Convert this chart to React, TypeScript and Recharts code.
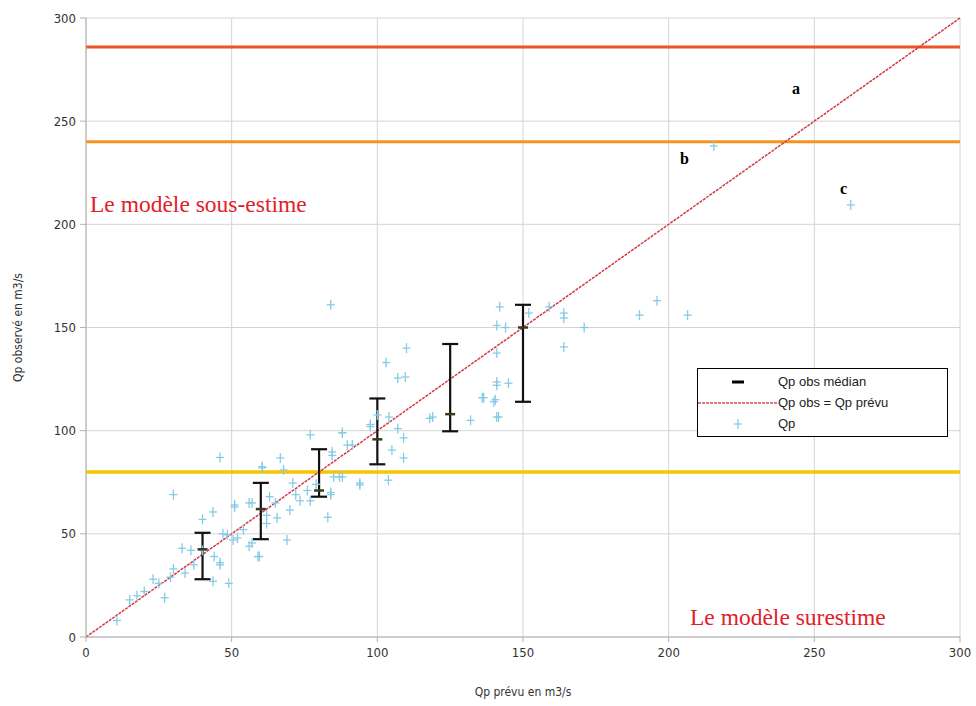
import { ComposedChart, Scatter, Line, XAxis, YAxis, CartesianGrid, ReferenceLine, ErrorBar } from 'recharts';

const TICKS = [0, 50, 100, 150, 200, 250, 300];

// seuils horizontaux
const SEUIL_ROUGE = 286;
const SEUIL_ORANGE = 240;
const SEUIL_JAUNE = 80;

// Qp prévu / Qp observé
const QP_PREVU = [
  46, 30, 43.6, 40, 51, 33, 44, 46, 30, 29, 27, 43.6, 49, 23, 17.5, 15, 10.6, 47, 48.5, 56,
  59.5, 57, 60.5, 36, 40, 66.7, 60.5, 67.8, 77, 88, 97.6, 51, 56, 63, 65, 71, 73.5, 77, 76, 70,
  84, 83, 85, 88, 94, 62, 57, 59, 69, 50.5, 46, 89.7, 84.5, 65.6, 84, 110, 103, 107, 109.6, 119,
  118, 132, 100, 104, 107, 109, 105, 109, 97.6, 88, 91.4, 84.5, 103.8, 94, 87, 84, 141, 136.5, 140.5, 141,
  141, 141, 142, 144, 152, 159, 164, 164, 171, 164, 141, 145, 136, 140, 141.6, 196, 190, 206.5, 262.5, 215.5,
  37, 54, 52, 62, 72, 79, 20, 25, 34,
];
const QP_OBS = [
  87, 69, 60.6, 57, 64, 43, 39, 35, 33, 29, 19, 27, 26, 28, 20, 18, 8, 50, 49.5, 44,
  39, 65, 82, 42, 42, 86.8, 82.5, 81, 98, 99, 103, 63, 65, 68, 65, 74.6, 66, 66, 71, 61.5,
  69, 58, 77.6, 77.6, 73.7, 55, 45.6, 39, 47, 47, 36, 93, 89.7, 57.7, 161, 140, 133, 125.5, 126, 106.6,
  106, 105, 107.6, 106.6, 101, 96.5, 90.6, 86.8, 102, 99, 93, 88, 76, 74.6, 77.6, 70, 123.6, 116, 115, 106.6,
  137.6, 151, 160, 150, 157, 160, 157, 154.6, 150, 140.6, 122, 123, 116, 114, 106.6, 163, 156, 156, 209.4, 238,
  35, 52, 48, 59, 69, 74, 22, 26, 31,
];

// Qp obs médian par classe de Qp prévu
const CLASSES = [40, 60, 80, 100, 125, 150];
const MEDIANE = [42.5, 62, 71, 95.8, 108, 150];
const BAS = [28, 47.4, 68, 83.7, 99.7, 114];
const HAUT = [50.5, 74.7, 91, 115.6, 142, 161];

const pointsQp = QP_PREVU.map((x, i) => ({ x, y: QP_OBS[i] }));
const medianes = CLASSES.map((x, i) => ({ x, y: MEDIANE[i], err: [MEDIANE[i] - BAS[i], HAUT[i] - MEDIANE[i]] }));
const diagonale = [{ x: 0, y: 0 }, { x: 300, y: 300 }];

const tickFont = { fontFamily: "'Liberation Sans Narrow', 'DejaVu Sans Condensed', sans-serif", fontSize: 13, fill: '#333' };
const BLEU = '#86cbe6';

function Croix(props: any) {
  const { cx, cy } = props;
  if (cx == null || cy == null) return null;
  return (
    <g stroke={BLEU} strokeWidth={1.3}>
      <line x1={cx - 4} y1={cy} x2={cx + 4} y2={cy} />
      <line x1={cx} y1={cy - 5} x2={cx} y2={cy + 5} />
    </g>
  );
}

function Tiret(props: any) {
  const { cx, cy } = props;
  if (cx == null || cy == null) return null;
  return <line x1={cx - 5} y1={cy} x2={cx + 5} y2={cy} stroke="#3a3a20" strokeWidth={2.5} />;
}

function Legende() {
  const row = { display: 'flex', alignItems: 'center', height: 21 } as const;
  const sym = { width: 80, display: 'flex', justifyContent: 'center' } as const;
  return (
    <div style={{ position: 'absolute', left: 697, top: 368, border: '1.5px solid #000', background: '#fff', width: 251, height: 69, padding: '2px 0', boxSizing: 'border-box', fontFamily: "'Liberation Sans', Arial, sans-serif", fontSize: 13, color: '#222' }}>
      <div style={row}>
        <div style={sym}><svg width={12} height={6}><line x1={0} y1={3} x2={12} y2={3} stroke="#000" strokeWidth={3} /></svg></div>
        <span>Qp obs médian</span>
      </div>
      <div style={row}>
        <div style={sym}><svg width={80} height={6}><line x1={0} y1={3} x2={80} y2={3} stroke="#d9485a" strokeWidth={1.5} strokeDasharray="3 1" /></svg></div>
        <span>Qp obs = Qp prévu</span>
      </div>
      <div style={row}>
        <div style={sym}><svg width={12} height={12}><line x1={2} y1={6} x2={10} y2={6} stroke={BLEU} strokeWidth={1.3} /><line x1={6} y1={1} x2={6} y2={11} stroke={BLEU} strokeWidth={1.3} /></svg></div>
        <span>Qp</span>
      </div>
    </div>
  );
}

const serif = "'Liberation Serif', 'DejaVu Serif', serif";

export default function App() {
  return (
    <div style={{ position: 'absolute', left: 0, top: 0, width: 976, height: 706, background: '#fff' }}>
      <ComposedChart width={976} height={706} margin={{ top: 18, right: 16, bottom: 0, left: 0 }}>
        <CartesianGrid stroke="#d4d4d4" strokeWidth={1} />
        <XAxis
          type="number"
          dataKey="x"
          domain={[0, 300]}
          ticks={TICKS}
          height={69}
          tick={tickFont}
          tickSize={5}
          tickMargin={6}
          stroke="#b0b0b0"
          label={{ value: 'Qp prévu en m3/s', position: 'insideBottom', offset: 10, style: { ...tickFont, fontSize: 12 } }}
        />
        <YAxis
          type="number"
          dataKey="y"
          domain={[0, 300]}
          ticks={TICKS}
          width={86}
          tick={tickFont}
          tickSize={6}
          tickMargin={4}
          stroke="#b0b0b0"
          label={{ value: 'Qp observé en m3/s', angle: -90, position: 'insideLeft', offset: 18, style: { ...tickFont, fontSize: 12, textAnchor: 'middle' } }}
        />
        <ReferenceLine y={SEUIL_ROUGE} stroke="#ec5424" strokeWidth={3} />
        <ReferenceLine y={SEUIL_ORANGE} stroke="#f5941c" strokeWidth={3} />
        <ReferenceLine y={SEUIL_JAUNE} stroke="#f7c600" strokeWidth={3.5} />
        <Scatter name="Qp" data={pointsQp} shape={<Croix />} isAnimationActive={false} />
        <Line
          name="Qp obs = Qp prévu"
          data={diagonale}
          dataKey="y"
          type="linear"
          stroke="#d23a48"
          strokeWidth={1.5}
          strokeDasharray="3 1"
          dot={false}
          activeDot={false}
          isAnimationActive={false}
        />
        <Scatter name="Qp obs médian" data={medianes} shape={<Tiret />} isAnimationActive={false}>
          <ErrorBar dataKey="err" direction="y" width={8} stroke="#111" strokeWidth={2.2} />
        </Scatter>
      </ComposedChart>
      <Legende />
      <div style={{ position: 'absolute', left: 90, top: 191, fontFamily: serif, fontSize: 23.5, color: '#e2202a' }}>Le modèle sous-estime</div>
      <div style={{ position: 'absolute', left: 690, top: 604, fontFamily: serif, fontSize: 23.5, color: '#e2202a' }}>Le modèle surestime</div>
      <div style={{ position: 'absolute', left: 792, top: 80, fontFamily: serif, fontSize: 16, fontWeight: 'bold' }}>a</div>
      <div style={{ position: 'absolute', left: 680, top: 150, fontFamily: serif, fontSize: 16, fontWeight: 'bold' }}>b</div>
      <div style={{ position: 'absolute', left: 840, top: 180, fontFamily: serif, fontSize: 16, fontWeight: 'bold' }}>c</div>
    </div>
  );
}
